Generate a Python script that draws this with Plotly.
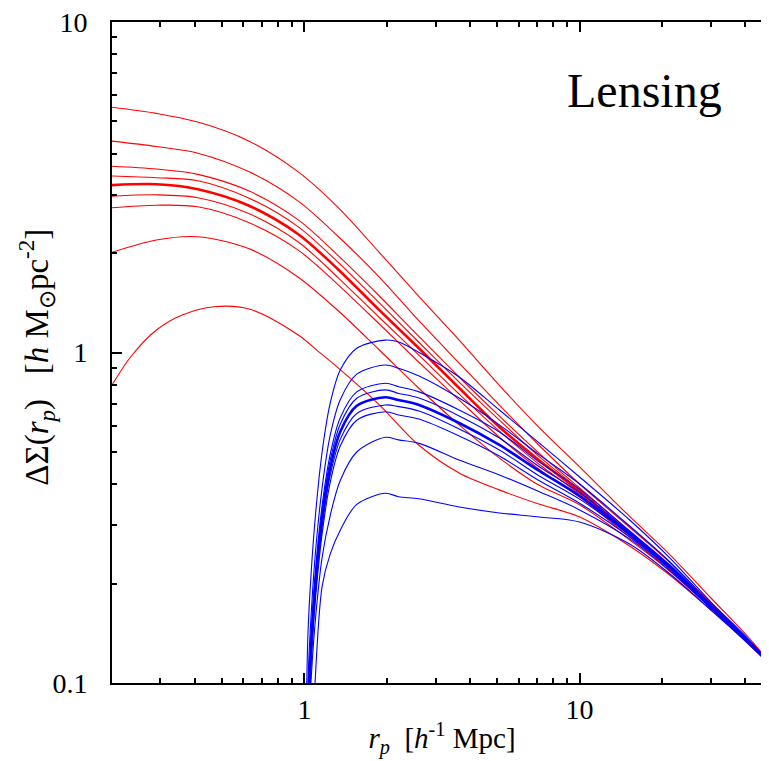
import plotly.graph_objects as go

# ---- data (x in h^-1 Mpc, y in h Msun/pc^2) ----
red_x = [0.2, 0.29, 0.41, 0.63, 0.95, 1.33, 1.86, 2.6, 3.65, 5.1, 7.1, 10, 15, 21, 30, 40, 50]
red_1 = [5.52, 5.29, 4.98, 4.36, 3.52, 2.74, 2.02, 1.48, 1.09, 0.797, 0.595, 0.451, 0.3224, 0.2473, 0.1808, 0.1407, 0.1135]
red_2 = [4.36, 4.20, 4.01, 3.52, 2.87, 2.24, 1.70, 1.25, 0.929, 0.694, 0.525, 0.400, 0.2985, 0.2339, 0.1746, 0.1378, 0.1130]
red_3 = [3.66, 3.59, 3.46, 3.08, 2.52, 1.96, 1.49, 1.12, 0.843, 0.643, 0.497, 0.389, 0.2904, 0.2275, 0.1722, 0.1368, 0.1128]
red_4 = [3.42, 3.38, 3.31, 2.93, 2.40, 1.87, 1.42, 1.076, 0.814, 0.625, 0.486, 0.384, 0.2864, 0.226, 0.171, 0.1368, 0.1128]
red_5 = [3.21, 3.23, 3.12, 2.78, 2.28, 1.78, 1.35, 1.032, 0.781, 0.596, 0.473, 0.380, 0.2844, 0.2244, 0.1698, 0.1359, 0.1128]
red_6 = [2.97, 3.00, 2.94, 2.63, 2.16, 1.68, 1.283, 0.983, 0.749, 0.579, 0.460, 0.373, 0.2825, 0.2244, 0.1698, 0.1359, 0.1128]
red_7 = [2.74, 2.79, 2.76, 2.47, 2.04, 1.60, 1.226, 0.936, 0.718, 0.555, 0.444, 0.365, 0.2786, 0.2229, 0.1686, 0.1359, 0.1128]
red_8 = [2.01, 2.19, 2.24, 2.06, 1.69, 1.335, 1.023, 0.781, 0.604, 0.480, 0.397, 0.346, 0.2729, 0.2198, 0.1686, 0.1349, 0.1125]
red_9_x = [0.2, 0.234, 0.29, 0.36, 0.47, 0.63, 0.95, 1.12, 1.33, 1.86, 2.6, 3.65, 5.1, 7.1, 10, 15, 21, 30, 40, 50]
red_9 = [0.797, 0.971, 1.17, 1.299, 1.376, 1.354, 1.13, 1.01, 0.897, 0.698, 0.525, 0.432, 0.384, 0.348, 0.318, 0.2616, 0.2137, 0.1663, 0.134, 0.1122]

blue_x = [1.0, 1.03, 1.06, 1.1, 1.16, 1.24, 1.35, 1.55, 1.97, 2.2, 2.61, 3.65, 5.11, 7.14, 10, 15.2, 21.3, 30, 40, 50]
blue_1 = [0.03, 0.14, 0.22, 0.33, 0.50, 0.70, 0.885, 1.03, 1.09, 1.076, 1.0, 0.843, 0.67, 0.532, 0.42, 0.3113, 0.2388, 0.1758, 0.1388, 0.1132]
blue_2 = [0.02, 0.10, 0.165, 0.255, 0.39, 0.56, 0.72, 0.86, 0.917, 0.896, 0.849, 0.728, 0.604, 0.49, 0.40, 0.2985, 0.2323, 0.1734, 0.1378, 0.1130]
blue_3 = [0.015, 0.085, 0.145, 0.225, 0.345, 0.49, 0.635, 0.76, 0.807, 0.788, 0.760, 0.670, 0.575, 0.466, 0.386, 0.2884, 0.2275, 0.1722, 0.1368, 0.1128]
blue_4 = [0.014, 0.08, 0.138, 0.215, 0.33, 0.47, 0.607, 0.727, 0.771, 0.752, 0.728, 0.643, 0.551, 0.451, 0.377, 0.2864, 0.226, 0.171, 0.1368, 0.1128]
blue_5 = [0.013, 0.076, 0.131, 0.204, 0.313, 0.446, 0.576, 0.69, 0.732, 0.718, 0.694, 0.612, 0.525, 0.438, 0.368, 0.2825, 0.2244, 0.1698, 0.1359, 0.1128]
blue_6 = [0.012, 0.072, 0.124, 0.193, 0.297, 0.423, 0.546, 0.654, 0.694, 0.686, 0.665, 0.587, 0.507, 0.423, 0.360, 0.2805, 0.2229, 0.1698, 0.1359, 0.1128]
blue_7 = [0.011, 0.068, 0.118, 0.184, 0.283, 0.403, 0.521, 0.624, 0.662, 0.647, 0.629, 0.559, 0.486, 0.409, 0.350, 0.2767, 0.2213, 0.1686, 0.1349, 0.1128]
blue_8 = [0.005, 0.06, 0.105, 0.16, 0.24, 0.32, 0.41, 0.50, 0.554, 0.544, 0.531, 0.473, 0.426, 0.379, 0.334, 0.2729, 0.2183, 0.1686, 0.1349, 0.1125]
blue_9 = [0.003, 0.015, 0.05, 0.11, 0.196, 0.245, 0.29, 0.347, 0.375, 0.366, 0.361, 0.341, 0.327, 0.318, 0.307, 0.2634, 0.2137, 0.1663, 0.134, 0.1120]

x_major = [1, 10]
x_major_text = ["1", "10"]
x_minor = [0.2, 0.3, 0.4, 0.5, 0.6, 0.7, 0.8, 0.9, 2, 3, 4, 5, 6, 7, 8, 9, 20, 30, 40]
y_major = [0.1, 1, 10]
y_major_text = ["0.1", "1", "10"]
y_minor = [0.2, 0.3, 0.4, 0.5, 0.6, 0.7, 0.8, 0.9, 2, 3, 4, 5, 6, 7, 8, 9]

RED = "#ff0000"
BLUE = "#0000ff"
THIN = 1.1
THICK = 2.6

fig = go.Figure()
red_series = [(red_x, red_1, THIN), (red_x, red_2, THIN), (red_x, red_3, THIN), (red_x, red_4, THIN),
              (red_x, red_6, THIN), (red_x, red_7, THIN), (red_x, red_8, THIN), (red_9_x, red_9, THIN),
              (red_x, red_5, THICK)]
for xs, ys, w in red_series:
    fig.add_trace(go.Scatter(x=xs, y=ys, mode="lines", hoverinfo="skip",
                             line=dict(color=RED, width=w, shape="spline", smoothing=0.9)))
blue_series = [(blue_1, THIN), (blue_2, THIN), (blue_3, THIN), (blue_4, THIN), (blue_6, THIN),
               (blue_7, THIN), (blue_8, THIN), (blue_9, THIN), (blue_5, THICK)]
for ys, w in blue_series:
    fig.add_trace(go.Scatter(x=blue_x, y=ys, mode="lines", hoverinfo="skip",
                             line=dict(color=BLUE, width=w, shape="spline", smoothing=0.9)))

tick_font = dict(family="Liberation Serif", size=28, color="black")
title_font = dict(family="Liberation Serif", size=29, color="black")
ytitle_font = dict(family="Liberation Serif", size=33, color="black")

fig.update_xaxes(type="log", range=[-0.699, 1.699], showgrid=False, zeroline=False, automargin=False,
                 showline=True, linecolor="black", linewidth=2, mirror="ticks",
                 ticks="inside", ticklen=10, tickwidth=1.5, tickcolor="black",
                 tickvals=x_major, ticktext=x_major_text, tickfont=tick_font, ticklabeloverflow="allow",
                 minor=dict(tickvals=x_minor, ticks="inside", ticklen=5, tickwidth=1.5, tickcolor="black", showgrid=False),
                 title=dict(text="<i>r<sub>p</sub></i>  [<i>h</i><sup>-1</sup> Mpc]", font=title_font, standoff=4))
fig.update_yaxes(type="log", range=[-1, 1], showgrid=False, zeroline=False, automargin=False,
                 showline=True, linecolor="black", linewidth=2, mirror="ticks",
                 ticks="inside", ticklen=10, tickwidth=1.5, tickcolor="black",
                 tickvals=y_major, ticktext=y_major_text, tickfont=tick_font, ticklabelstandoff=17,
                 ticklabeloverflow="allow",
                 minor=dict(tickvals=y_minor, ticks="inside", ticklen=5, tickwidth=1.5, tickcolor="black", showgrid=False))

fig.add_annotation(text="ΔΣ(<i>r<sub>p</sub></i>)&nbsp;&nbsp;&nbsp;[<i>h</i> M<sub>⊙</sub>pc<sup>-2</sup>]",
                   xref="paper", yref="paper", x=-0.1143, y=0.493, textangle=-90,
                   xanchor="center", yanchor="middle", showarrow=False, font=ytitle_font)

fig.add_annotation(text="Lensing", xref="paper", yref="paper", x=0.8075, y=0.897,
                   xanchor="center", yanchor="middle", showarrow=False,
                   font=dict(family="Liberation Serif", size=48, color="black"))

fig.update_layout(width=769, height=761, margin=dict(l=104, r=5, t=14, b=86, autoexpand=False),
                  paper_bgcolor="white", plot_bgcolor="white", showlegend=False)

fig.write_html("out.html")
